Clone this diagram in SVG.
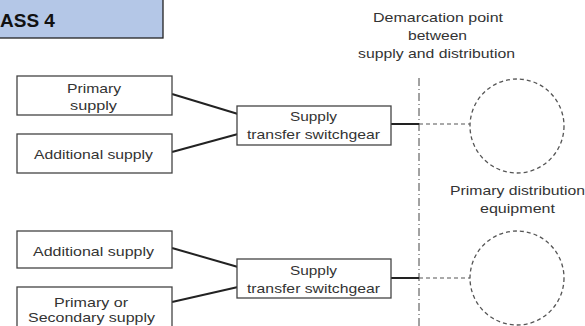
<svg xmlns="http://www.w3.org/2000/svg" width="585" height="326" viewBox="0 0 585 326">
<style>
.box{fill:#fff;stroke:#444;stroke-width:1.3}
.t{font-family:"Liberation Sans",Arial,sans-serif;font-size:13.5px;fill:#333;text-anchor:middle}
.c{stroke:#222;stroke-width:2;fill:none}
.d{stroke:#555;stroke-width:1.2;stroke-dasharray:4,3;fill:none}
.eq{stroke:#555;stroke-width:1.3;stroke-dasharray:4,3;fill:#fff}
</style>
<rect width="585" height="326" fill="#fff"/>
<g id="title">
<rect x="-2" y="-2" width="165" height="40" fill="#b4c7e7" stroke="#222" stroke-width="1.3"/>
<text x="0" y="27" font-family="'Liberation Sans',Arial,sans-serif" font-size="19" font-weight="bold" fill="#111">ASS 4</text>
</g>
<g id="demarcation">
<text class="t" x="438" y="22" textLength="130" lengthAdjust="spacingAndGlyphs">Demarcation point</text>
<text class="t" x="437.5" y="40" textLength="59" lengthAdjust="spacingAndGlyphs">between</text>
<text class="t" x="436.5" y="58" textLength="157" lengthAdjust="spacingAndGlyphs">supply and distribution</text>
<line x1="419" y1="78" x2="419" y2="326" stroke="#444" stroke-width="1" stroke-dasharray="8,3,1,3"/>
</g>
<g id="connectors">
<line class="c" x1="172" y1="94" x2="238" y2="114"/>
<line class="c" x1="172" y1="152" x2="238" y2="134"/>
<line class="c" x1="391" y1="124" x2="419" y2="124"/>
<line class="d" x1="419" y1="124" x2="470" y2="124"/>
<line class="c" x1="172" y1="248" x2="238" y2="267"/>
<line class="c" x1="172" y1="302" x2="238" y2="287"/>
<line class="c" x1="391" y1="278" x2="419" y2="278"/>
<line class="d" x1="419" y1="278" x2="470" y2="278"/>
</g>
<g id="primary1">
<rect class="box" x="17" y="76" width="155" height="39"/>
<text class="t" x="94" y="93" textLength="54" lengthAdjust="spacingAndGlyphs">Primary</text>
<text class="t" x="93.5" y="110" textLength="47" lengthAdjust="spacingAndGlyphs">supply</text>
</g>
<g id="additional1">
<rect class="box" x="17" y="134" width="155" height="39"/>
<text class="t" x="93.5" y="159" textLength="119" lengthAdjust="spacingAndGlyphs">Additional supply</text>
</g>
<g id="switch1">
<rect class="box" x="237" y="106" width="154" height="39"/>
<text class="t" x="313.5" y="121" textLength="47" lengthAdjust="spacingAndGlyphs">Supply</text>
<text class="t" x="313.5" y="139" textLength="133" lengthAdjust="spacingAndGlyphs">transfer switchgear</text>
</g>
<g id="equip1">
<circle class="eq" cx="517" cy="126" r="47"/>
</g>
<g id="label">
<text class="t" x="517.5" y="195" textLength="135" lengthAdjust="spacingAndGlyphs">Primary distribution</text>
<text class="t" x="517.5" y="213" textLength="75" lengthAdjust="spacingAndGlyphs">equipment</text>
</g>
<g id="additional2">
<rect class="box" x="17" y="231" width="155" height="37"/>
<text class="t" x="93.5" y="256" textLength="121" lengthAdjust="spacingAndGlyphs">Additional supply</text>
</g>
<g id="primary2">
<rect class="box" x="17" y="287" width="155" height="40"/>
<text class="t" x="91" y="307" textLength="74" lengthAdjust="spacingAndGlyphs">Primary or</text>
<text class="t" x="91.5" y="322" textLength="127" lengthAdjust="spacingAndGlyphs">Secondary supply</text>
</g>
<g id="switch2">
<rect class="box" x="237" y="259" width="154" height="39"/>
<text class="t" x="313.5" y="275" textLength="47" lengthAdjust="spacingAndGlyphs">Supply</text>
<text class="t" x="313.5" y="293" textLength="133" lengthAdjust="spacingAndGlyphs">transfer switchgear</text>
</g>
<g id="equip2">
<circle class="eq" cx="517" cy="278" r="47"/>
</g>
</svg>
